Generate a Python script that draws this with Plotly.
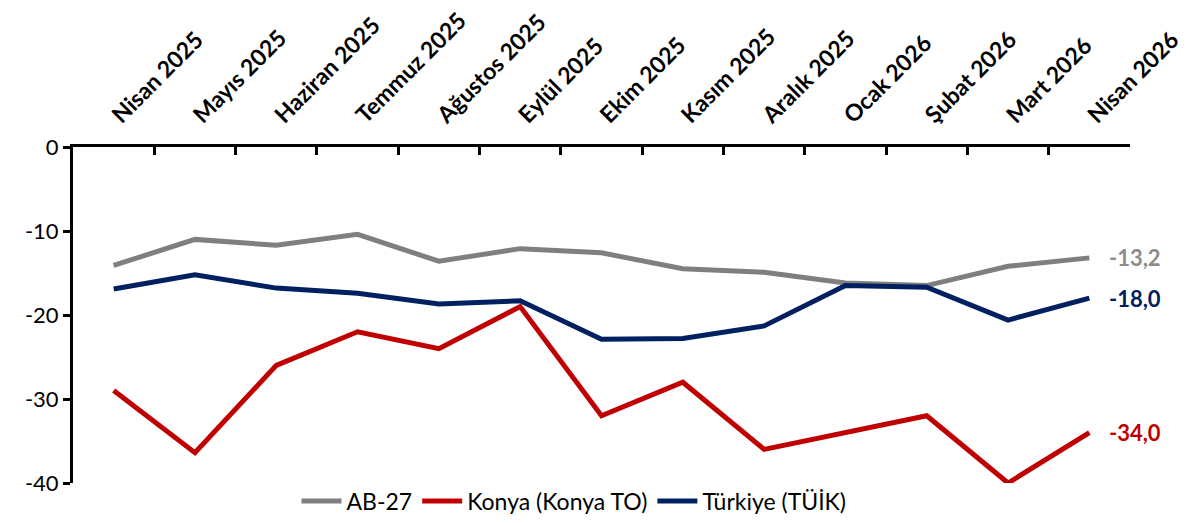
import plotly.graph_objects as go

months = ["Nisan 2025", "Mayıs 2025", "Haziran 2025", "Temmuz 2025", "Ağustos 2025",
          "Eylül 2025", "Ekim 2025", "Kasım 2025", "Aralık 2025", "Ocak 2026",
          "Şubat 2026", "Mart 2026", "Nisan 2026"]

ab27 = [-14.1, -11.0, -11.7, -10.4, -13.6, -12.1, -12.6, -14.5, -14.9, -16.2, -16.5, -14.2, -13.2]
konya = [-29.0, -36.4, -26.0, -22.0, -24.0, -19.0, -32.0, -28.0, -36.0, -34.0, -32.0, -40.0, -34.0]
turkiye = [-16.9, -15.2, -16.8, -17.4, -18.7, -18.3, -22.9, -22.8, -21.3, -16.5, -16.7, -20.6, -18.0]

y_ticks = [0, -10, -20, -30, -40]
y_tick_text = ["0", "-10", "-20", "-30", "-40"]

FONT = "Lato"

fig = go.Figure()

# seriler
series = [
    ("AB-27", ab27, "#7F7F7F", "#8C8C8C", "-13,2"),
    ("Konya (Konya TO)", konya, "#C00000", "#C00000", "-34,0"),
    ("Türkiye (TÜİK)", turkiye, "#002060", "#002060", "-18,0"),
]
for name, vals, col, lblcol, lbl in series:
    fig.add_trace(go.Scatter(
        x=months, y=vals, name=name, mode="lines",
        line=dict(color=col, width=5)
    ))
    # son değer etiketi
    fig.add_annotation(
        x=months[-1], y=vals[-1], text="<b>" + lbl + "</b>",
        xref="x", yref="y", xanchor="left", xshift=18, showarrow=False,
        font=dict(family=FONT, size=22, color=lblcol)
    )

# sayfa gövdesinin 8px kenar boşluğu hesaba katıldı
fig.update_layout(
    width=1181, height=515,
    margin=dict(l=65, r=59, t=139, b=40, autoexpand=False),
    plot_bgcolor="white", paper_bgcolor="white",
    font=dict(family=FONT, size=22, color="black"),
    showlegend=True,
    legend=dict(orientation="h", x=0.474, xanchor="center", y=0.01, yanchor="top",
                font=dict(family=FONT, size=23), itemwidth=40, tracegroupgap=0,
                bgcolor="rgba(0,0,0,0)")
)

fig.update_xaxes(
    side="top", type="category", tickangle=-45, range=[-0.5, 12.5],
    tickfont=dict(family=FONT, size=23, weight="bold"), ticklabelstandoff=7,
    showline=True, linecolor="black", linewidth=3,
    ticks="inside", ticklen=8, tickwidth=3, tickcolor="black",
    tickson="boundaries", showgrid=False, zeroline=False
)
fig.update_yaxes(
    range=[-40, 0], tickvals=y_ticks, ticktext=y_tick_text,
    showline=True, linecolor="black", linewidth=3,
    ticks="outside", ticklen=7, tickwidth=3, tickcolor="black",
    showgrid=False, zeroline=False, tickfont=dict(family=FONT, size=22)
)

fig.write_html("out.html")
